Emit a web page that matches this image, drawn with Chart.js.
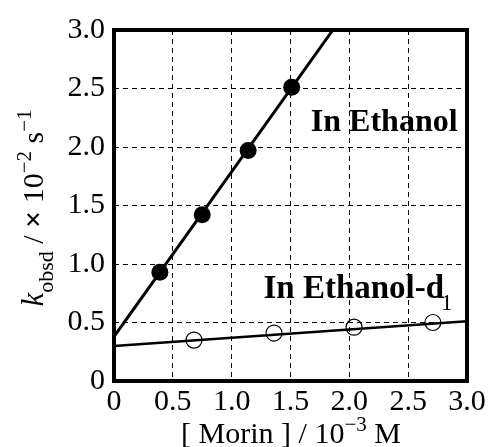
<!DOCTYPE html>
<html>
<head>
<meta charset="utf-8">
<script src="https://cdn.jsdelivr.net/npm/chart.js@4/dist/chart.umd.min.js"></script>
<style>
  html, body { margin: 0; padding: 0; background: #fff; }
  #wrap { width: 496px; height: 447px; }
</style>
</head>
<body>
<div id="wrap"><canvas id="c" width="496" height="447"></canvas></div>
<script>
// ---- data ----
const ethanolX = [0.39, 0.75, 1.14, 1.51];
const ethanolY = [0.93, 1.42, 1.97, 2.51];
const ethanolDX = [0.68, 1.36, 2.04, 2.71];
const ethanolDY = [0.35, 0.41, 0.46, 0.50];
// fitted lines (end points)
const fitEthanolX = [0, 1.86];
const fitEthanolY = [0.38, 3.0];
const fitEthanolDX = [0, 3.0];
const fitEthanolDY = [0.30, 0.51];
const xTicks = [0, 0.5, 1.0, 1.5, 2.0, 2.5, 3.0];
const yTicks = [0, 0.5, 1.0, 1.5, 2.0, 2.5, 3.0];

const SERIF = "'Liberation Serif', 'Times New Roman', serif";
const pts = (xs, ys) => xs.map((x, i) => ({ x: x, y: ys[i] }));
const tickLabel = v => v === 0 ? '0' : v.toFixed(1);

// draws frame, annotations and axis titles
const decor = {
    id: 'decor',
    afterDraw(chart) {
        const ctx = chart.ctx;
        const a = chart.chartArea;
        const xs = chart.scales.x, ys = chart.scales.y;
        ctx.save();
        ctx.strokeStyle = '#000';
        ctx.lineWidth = 4;
        ctx.strokeRect(a.left, a.top, a.right - a.left, a.bottom - a.top);

        ctx.fillStyle = '#000';
        ctx.textBaseline = 'alphabetic';
        // In Ethanol
        ctx.font = 'bold 32px ' + SERIF;
        ctx.textAlign = 'right';
        ctx.fillText('In Ethanol', xs.getPixelForValue(2.92), ys.getPixelForValue(2.14));
        // In Ethanol-d1
        ctx.textAlign = 'left';
        ctx.font = 'bold 33px ' + SERIF;
        const lx = xs.getPixelForValue(1.27), ly = ys.getPixelForValue(0.71);
        ctx.fillText('In Ethanol-d', lx, ly);
        const w = ctx.measureText('In Ethanol-d').width;
        ctx.font = '23px ' + SERIF;
        ctx.fillText('1', lx + w - 3, ly + 12);

        // x title: [ Morin ] / 10^-3 M
        const parts = [
            { t: '[ Morin ] / 10', f: '30px ' + SERIF, dy: 0 },
            { t: '\u22123', f: '21px ' + SERIF, dy: -12 },
            { t: ' M', f: '30px ' + SERIF, dy: 0 }
        ];
        let total = 0;
        parts.forEach(p => { ctx.font = p.f; p.w = ctx.measureText(p.t).width; total += p.w; });
        let x0 = 291 - total / 2;
        const by = 443;
        parts.forEach(p => { ctx.font = p.f; ctx.fillText(p.t, x0, by + p.dy); x0 += p.w; });

        // y title, rotated
        const yparts = [
            { t: 'k', f: 'italic 31px ' + SERIF, dy: 0 },
            { t: 'obsd', f: '22px ' + SERIF, dy: 10 },
            { t: ' / ', f: '30px ' + SERIF, dy: 0 },
            { t: '\u00d7', f: 'bold 30px ' + SERIF, dy: 0 },
            { t: ' 10', f: '30px ' + SERIF, dy: 0 },
            { t: '\u22122', f: '21px ' + SERIF, dy: -12 },
            { t: ' s', f: '30px ' + SERIF, dy: 0 },
            { t: '\u22121', f: '21px ' + SERIF, dy: -12 }
        ];
        total = 0;
        yparts.forEach(p => { ctx.font = p.f; p.w = ctx.measureText(p.t).width; total += p.w; });
        ctx.translate(43, 208);
        ctx.rotate(-Math.PI / 2);
        let s = -total / 2;
        yparts.forEach(p => { ctx.font = p.f; ctx.fillText(p.t, s, p.dy); s += p.w; });
        ctx.restore();
    }
};

const axisBase = {
    type: 'linear',
    min: 0,
    max: 3,
    grid: { color: '#000', lineWidth: 1, drawTicks: false },
    border: { display: false, dash: [5, 4] },
    ticks: {
        color: '#000',
        padding: 9,
        font: { family: SERIF, size: 30 },
        callback: tickLabel
    }
};

new Chart(document.getElementById('c'), {
    type: 'scatter',
    data: {
        datasets: [
            { data: pts(fitEthanolX, fitEthanolY), showLine: true, borderColor: '#000', borderWidth: 3, pointRadius: 0 },
            { data: pts(fitEthanolDX, fitEthanolDY), showLine: true, borderColor: '#000', borderWidth: 2.5, pointRadius: 0 },
            { data: pts(ethanolX, ethanolY), pointRadius: 8.5, backgroundColor: '#000', borderColor: '#000', borderWidth: 0 },
            { data: pts(ethanolDX, ethanolDY), pointRadius: 8, backgroundColor: 'rgba(0,0,0,0)', borderColor: '#000', borderWidth: 1.2 }
        ]
    },
    options: {
        responsive: false,
        animation: false,
        devicePixelRatio: 1,
        layout: { padding: { left: 0, top: 30, right: 29, bottom: 0 } },
        plugins: { legend: { display: false }, tooltip: { enabled: false } },
        scales: {
            x: Object.assign({}, axisBase, {
                ticks: Object.assign({}, axisBase.ticks, { padding: 3 }),
                afterBuildTicks: s => { s.ticks = xTicks.map(v => ({ value: v })); },
                afterFit: s => { s.height = 66; }
            }),
            y: Object.assign({}, axisBase, {
                afterBuildTicks: s => { s.ticks = yTicks.map(v => ({ value: v })); },
                afterFit: s => { s.width = 114; }
            })
        }
    },
    plugins: [decor]
});
</script>
</body>
</html>
